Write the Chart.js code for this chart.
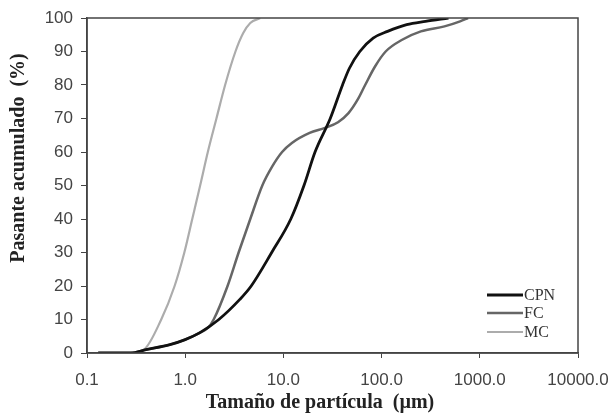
<!DOCTYPE html>
<html>
<head>
<meta charset="utf-8">
<script src="https://cdn.jsdelivr.net/npm/chart.js@4.4.0/dist/chart.umd.min.js"></script>
<style>
  body { margin: 0; background: #fff; }
  #wrap { width: 612px; height: 415px; }
</style>
</head>
<body>
<div id="wrap"><canvas id="psd" width="612" height="415"></canvas></div>
<script>
const seriesNames = ['CPN', 'FC', 'MC'];
const seriesColors = ['#111111', '#666666', '#acacac'];
const seriesWidths = [2.8, 2.5, 2.2];

const xTicks = [0.1, 1, 10, 100, 1000, 10000];
const yTicks = [0, 10, 20, 30, 40, 50, 60, 70, 80, 90, 100];

const xTitle = 'Tamaño de partícula  (µm)';
const yTitle = 'Pasante acumulado  (%)';

// particle size (um) / cumulative passing (%)
const cpnSize = [0.13, 0.28, 0.4, 0.7, 1.0, 1.4, 2.2, 3.6, 4.7, 7.6, 11.9, 16.2, 21, 30, 40, 47, 60, 82, 115, 180, 280, 480];
const cpnPass = [0, 0, 1, 2.5, 4, 6, 10, 16, 20, 30, 40, 50, 60, 70, 80, 85, 90, 94, 96, 98, 99, 100];

const fcSize = [0.13, 0.28, 0.4, 0.7, 1.0, 1.4, 1.7, 1.95, 2.7, 3.5, 4.6, 6.1, 7.7, 9.7, 12.2, 18.5, 26.5, 36, 46, 57, 68, 86, 110, 162, 251, 437, 630, 760];
const fcPass = [0, 0, 1, 2.5, 4, 6, 7.5, 10, 20, 30, 40, 50, 55.7, 60, 62.7, 65.7, 67.2, 68.9, 71.6, 75.6, 80, 85.6, 90, 93.5, 96, 97.5, 99, 100];

const mcSize = [0.13, 0.27, 0.38, 0.57, 0.78, 0.98, 1.18, 1.42, 1.7, 2.08, 2.55, 3.25, 3.9, 4.6, 5.8];
const mcPass = [0, 0, 1, 10, 20, 30, 40, 50, 60, 70, 80, 90, 95.5, 98.5, 100];

const sizes = [cpnSize, fcSize, mcSize];
const passes = [cpnPass, fcPass, mcPass];

const framePlugin = {
  id: 'frame',
  afterDraw(chart) {
    const { ctx, chartArea: a } = chart;
    ctx.save();
    ctx.strokeStyle = '#444';
    ctx.lineWidth = 1.5;
    ctx.strokeRect(a.left, a.top, a.right - a.left, a.bottom - a.top);

    // legend inside plot, bottom right
    ctx.font = '16px "Liberation Serif", "DejaVu Serif", serif';
    ctx.textBaseline = 'middle';
    ctx.textAlign = 'left';
    const rows = [a.bottom - 58, a.bottom - 40, a.bottom - 21];
    chart.data.datasets.forEach((ds, i) => {
      ctx.strokeStyle = ds.borderColor;
      ctx.lineWidth = ds.borderWidth;
      ctx.beginPath();
      ctx.moveTo(a.right - 91, rows[i]);
      ctx.lineTo(a.right - 55, rows[i]);
      ctx.stroke();
      ctx.fillStyle = '#333';
      ctx.fillText(ds.label, a.right - 54, rows[i] + 1);
    });

    // axis titles
    ctx.fillStyle = '#222';
    ctx.textAlign = 'center';
    ctx.font = 'bold 20px "Liberation Serif", "DejaVu Serif", serif';
    ctx.fillText(xTitle, 320, 403);
    ctx.translate(19, 158);
    ctx.rotate(-Math.PI / 2);
    ctx.fillText(yTitle, 0, 0);
    ctx.restore();
  }
};

new Chart(document.getElementById('psd'), {
  type: 'line',
  data: {
    datasets: seriesNames.map((name, i) => ({
      label: name,
      data: sizes[i].map((s, j) => ({ x: s, y: passes[i][j] })),
      borderColor: seriesColors[i],
      borderWidth: seriesWidths[i],
      pointRadius: 0,
      fill: false,
      cubicInterpolationMode: 'monotone'
    }))
  },
  options: {
    responsive: false,
    animation: false,
    layout: { padding: { top: 18, right: 34, left: 0, bottom: 0 } },
    plugins: { legend: { display: false }, tooltip: { enabled: false } },
    scales: {
      x: {
        type: 'logarithmic',
        min: 0.1,
        max: 10000,
        afterBuildTicks: s => { s.ticks = xTicks.map(v => ({ value: v })); },
        afterFit: s => { s.height = 62; s.paddingLeft = 0; s.paddingRight = 0; },
        border: { display: true, color: '#444', width: 1.5 },
        grid: { display: true, drawOnChartArea: false, drawTicks: true, tickLength: 5, color: '#444' },
        ticks: {
          color: '#444',
          padding: 12,
          maxRotation: 0,
          autoSkip: false,
          font: { family: '"Liberation Sans", Arial, sans-serif', size: 17 },
          callback: v => Number(v).toFixed(1)
        },
        title: { display: false }
      },
      y: {
        min: 0,
        max: 100,
        afterBuildTicks: s => { s.ticks = yTicks.map(v => ({ value: v })); },
        afterFit: s => { s.width = 87; s.paddingTop = 0; s.paddingBottom = 0; },
        border: { display: true, color: '#444', width: 1.5 },
        grid: { display: true, drawOnChartArea: false, drawTicks: true, tickLength: 6, color: '#444' },
        ticks: {
          color: '#444',
          padding: 8,
          font: { family: '"Liberation Sans", Arial, sans-serif', size: 17 }
        },
        title: { display: false }
      }
    }
  },
  plugins: [framePlugin]
});
</script>
</body>
</html>
